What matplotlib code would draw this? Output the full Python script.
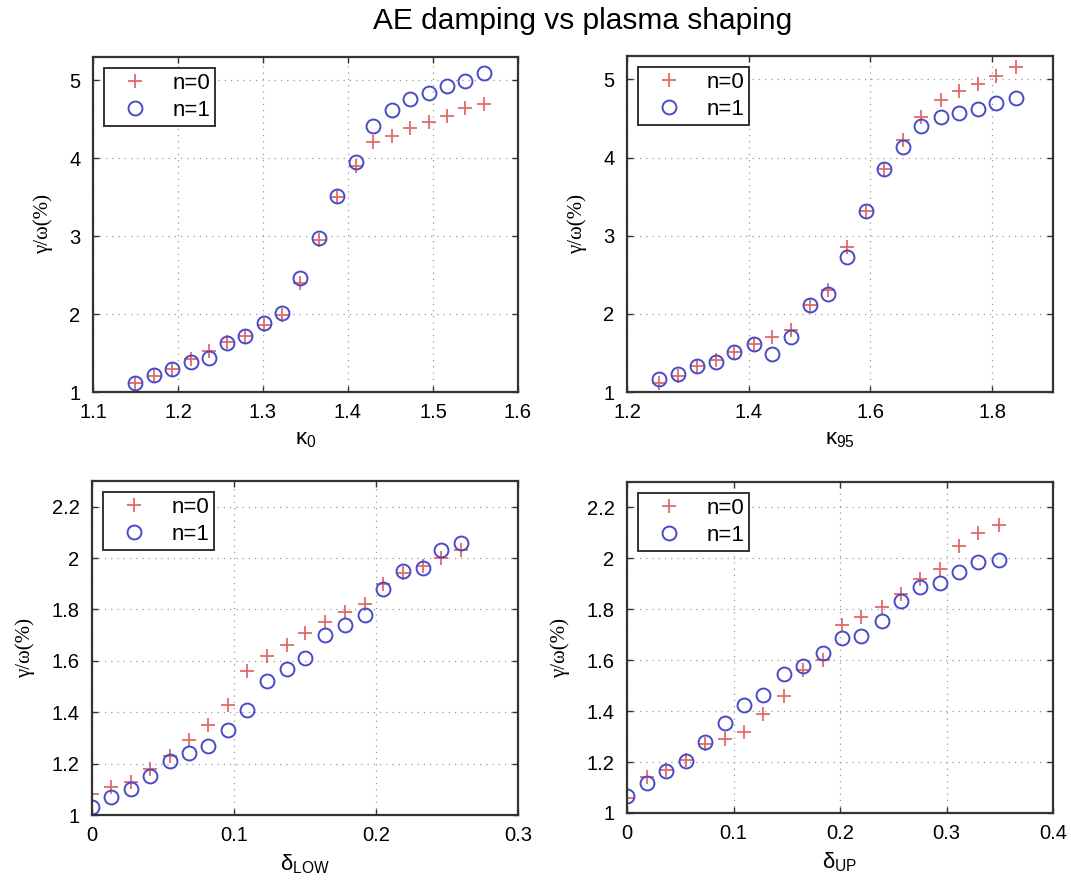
import matplotlib
matplotlib.use("Agg")
import matplotlib.pyplot as plt

plt.rcParams['font.family'] = ['Liberation Sans', 'DejaVu Sans']
plt.rcParams['mathtext.fontset'] = 'custom'
plt.rcParams['mathtext.rm'] = 'Liberation Sans'
plt.rcParams['mathtext.it'] = 'Liberation Sans'

# ---- data ----
kappa0 = [1.150, 1.172, 1.193, 1.215, 1.236, 1.258, 1.279, 1.301, 1.322, 1.344,
          1.366, 1.387, 1.409, 1.430, 1.452, 1.473, 1.495, 1.517, 1.538, 1.560]
k0_n0 = [1.12, 1.20, 1.29, 1.42, 1.52, 1.64, 1.72, 1.86, 1.99, 2.40,
         2.95, 3.50, 3.90, 4.21, 4.29, 4.39, 4.47, 4.54, 4.64, 4.70]
k0_n1 = [1.12, 1.22, 1.29, 1.39, 1.44, 1.63, 1.72, 1.88, 2.01, 2.46,
         2.98, 3.52, 3.95, 4.42, 4.62, 4.76, 4.84, 4.93, 4.99, 5.10]

kappa95 = [1.253, 1.284, 1.315, 1.346, 1.376, 1.408, 1.438, 1.469, 1.500, 1.530,
           1.561, 1.592, 1.622, 1.653, 1.683, 1.716, 1.746, 1.777, 1.807, 1.839]
k95_n0 = [1.11, 1.21, 1.33, 1.41, 1.51, 1.61, 1.70, 1.79, 2.11, 2.30,
          2.86, 3.32, 3.86, 4.22, 4.52, 4.74, 4.85, 4.94, 5.05, 5.16]
k95_n1 = [1.17, 1.23, 1.33, 1.38, 1.51, 1.61, 1.49, 1.70, 2.11, 2.26,
          2.73, 3.32, 3.85, 4.13, 4.40, 4.52, 4.57, 4.62, 4.70, 4.76]

delta_low = [0.000, 0.0137, 0.0274, 0.041, 0.0547, 0.068, 0.082, 0.096, 0.109, 0.123,
             0.137, 0.150, 0.164, 0.178, 0.192, 0.205, 0.219, 0.233, 0.246, 0.260]
dl_n0 = [1.08, 1.11, 1.13, 1.18, 1.23, 1.29, 1.35, 1.43, 1.56, 1.62,
         1.66, 1.71, 1.75, 1.79, 1.82, 1.90, 1.94, 1.97, 2.00, 2.03]
dl_n1 = [1.03, 1.07, 1.10, 1.15, 1.21, 1.24, 1.27, 1.33, 1.41, 1.52,
         1.57, 1.61, 1.70, 1.74, 1.78, 1.88, 1.95, 1.96, 2.03, 2.06]

delta_up = [0.0, 0.0184, 0.0367, 0.055, 0.0734, 0.092, 0.110, 0.128, 0.147, 0.165,
            0.184, 0.202, 0.220, 0.239, 0.257, 0.275, 0.294, 0.312, 0.330, 0.349]
du_n0 = [1.06, 1.14, 1.17, 1.21, 1.27, 1.29, 1.32, 1.39, 1.46, 1.56,
         1.60, 1.74, 1.77, 1.81, 1.86, 1.92, 1.96, 2.05, 2.10, 2.13]
du_n1 = [1.065, 1.117, 1.166, 1.205, 1.277, 1.353, 1.425, 1.465, 1.545, 1.578,
         1.627, 1.686, 1.697, 1.753, 1.834, 1.886, 1.905, 1.945, 1.984, 1.994]

panels = [
    (kappa0, k0_n0, k0_n1, 'κ$_{0}$', (1.1, 1.6), [1.1, 1.2, 1.3, 1.4, 1.5, 1.6], (1, 5.3), [1, 2, 3, 4, 5]),
    (kappa95, k95_n0, k95_n1, 'κ$_{95}$', (1.2, 1.9), [1.2, 1.4, 1.6, 1.8], (1, 5.3), [1, 2, 3, 4, 5]),
    (delta_low, dl_n0, dl_n1, 'δ$_{\\mathrm{LOW}}$', (0, 0.3), [0, 0.1, 0.2, 0.3], (1, 2.3), [1, 1.2, 1.4, 1.6, 1.8, 2, 2.2]),
    (delta_up, du_n0, du_n1, 'δ$_{\\mathrm{UP}}$', (0, 0.4), [0, 0.1, 0.2, 0.3, 0.4], (1, 2.3), [1, 1.2, 1.4, 1.6, 1.8, 2, 2.2]),
]

W, H = 1071, 880
fig = plt.figure(figsize=(W / 100, H / 100), dpi=100)
boxes = [(93, 57, 518, 392), (627, 56, 1053, 392), (92, 481, 518, 815), (627, 482, 1053, 813)]

for (x, y0, y1, xl, xlim, xt, ylim, yt), (l, t, r, b) in zip(panels, boxes):
    ax = fig.add_axes([l / W, 1 - b / H, (r - l) / W, (b - t) / H])
    ax.plot(x, y0, linestyle='none', marker='+', color='#e06a6a', markersize=10, markeredgewidth=1.3, label='n=0')
    ax.plot(x, y1, linestyle='none', marker='o', markerfacecolor='none', markeredgecolor='#4a4ac8',
            markersize=10, markeredgewidth=1.4, label='n=1')
    ax.set_xlim(*xlim)
    ax.set_ylim(*ylim)
    ax.set_xticks(xt)
    ax.set_yticks(yt)
    ax.set_xticklabels(['%g' % v for v in xt])
    ax.set_yticklabels(['%g' % v for v in yt])
    ax.grid(True, linestyle=(0, (1, 4)), color='#999999', linewidth=0.9)
    ax.tick_params(direction='in', top=True, right=True, length=4, width=1.0, labelsize=14.5, color='#333333')
    ax.tick_params(axis='x', pad=8)
    ax.tick_params(axis='y', pad=9)
    for s in ax.spines.values():
        s.set_linewidth(1.6)
        s.set_color('#333333')
    ax.set_xlabel(xl, fontsize=16, labelpad=5)
    ax.set_ylabel('γ/ω(%)', fontsize=15, labelpad=12, family=['Liberation Serif', 'DejaVu Serif'])
    leg = ax.legend(loc='upper left', fontsize=16, fancybox=False, framealpha=1, edgecolor='#333333',
                    borderpad=0.2, handletextpad=0.5, labelspacing=0.3, borderaxespad=0.5, handlelength=2.4)
    leg.get_frame().set_linewidth(1.4)

fig.text(583 / W, 1 - 21 / H, 'AE damping vs plasma shaping', ha='center', va='center', fontsize=21.5)
fig.savefig('out.png', dpi=100)
